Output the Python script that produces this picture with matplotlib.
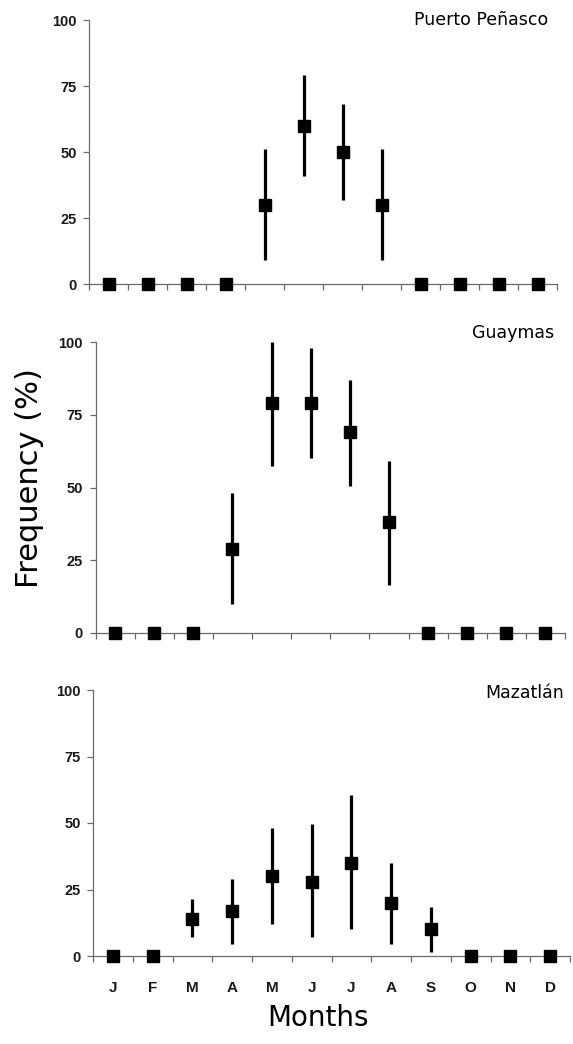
import matplotlib
matplotlib.use("Agg")
import matplotlib.pyplot as plt
import numpy as np

months = ["J", "F", "M", "A", "M", "J", "J", "A", "S", "O", "N", "D"]
yticks = [0, 25, 50, 75, 100]

sites = ["Puerto Peñasco", "Guaymas", "Mazatlán"]

pp_val = [0, 0, 0, 0, 30, 60, 50, 30, 0, 0, 0, 0]
pp_low = [0, 0, 0, 0, 9, 41, 32, 9, 0, 0, 0, 0]
pp_high = [0, 0, 0, 0, 51, 79, 68, 51, 0, 0, 0, 0]

gu_val = [0, 0, 0, 29, 79, 79, 69, 38, 0, 0, 0, 0]
gu_low = [0, 0, 0, 10, 57.5, 60, 50.5, 16.5, 0, 0, 0, 0]
gu_high = [0, 0, 0, 48, 100, 98, 87, 59, 0, 0, 0, 0]

ma_val = [0, 0, 14, 17, 30, 28, 35, 20, 10, 0, 0, 0]
ma_low = [0, 0, 7, 4.5, 12, 7, 10, 4.5, 1.5, 0, 0, 0]
ma_high = [0, 0, 21.5, 29, 48, 49.5, 60.5, 35, 18.5, 0, 0, 0]

W, H = 573, 1044
fig = plt.figure(figsize=(W / 100, H / 100), dpi=100)

# axes boxes in pixels: left, right, top(y=100), bottom(y=0)
boxes = [(89, 557, 20, 284), (95.5, 565, 342, 633), (93, 570, 690, 956)]
title_pos = [(548, 20), (554, 333), (564, 693)]
data = [(pp_val, pp_low, pp_high), (gu_val, gu_low, gu_high), (ma_val, ma_low, ma_high)]

spine_col = "#6a6a6a"
tick_font = dict(family="Liberation Sans", weight="bold", size=10.5)

x = np.arange(len(months))
for i, ((l, r, t, b), (val, lo, hi)) in enumerate(zip(boxes, data)):
    ax = fig.add_axes([l / W, 1 - b / H, (r - l) / W, (b - t) / H])
    val = np.array(val, float)
    lo = np.array(lo, float)
    hi = np.array(hi, float)
    yerr = np.vstack([val - lo, hi - val])
    has = (hi - lo) > 0
    ax.errorbar(x[has], val[has], yerr=yerr[:, has], fmt="none", ecolor="black",
                elinewidth=2.3, capsize=0, clip_on=False, zorder=3)
    ax.plot(x, val, linestyle="none", marker="s", markersize=8.5, color="black",
            clip_on=False, zorder=4)
    ax.set_xlim(-0.5, len(months) - 0.5)
    ax.set_ylim(0, 100)
    for s in ["top", "right"]:
        ax.spines[s].set_visible(False)
    for s in ["left", "bottom"]:
        ax.spines[s].set_color(spine_col)
        ax.spines[s].set_linewidth(0.9)
    ax.set_yticks(yticks)
    ax.set_yticklabels([str(v) for v in yticks], fontdict=tick_font, color="#1a1a1a")
    ax.tick_params(axis="y", direction="out", length=4, width=0.9, color=spine_col, pad=5)
    ax.set_xticks(np.arange(-0.5, len(months), 1.0))
    ax.set_xticklabels([])
    ax.tick_params(axis="x", which="major", direction="out", length=4, width=0.9, color=spine_col)
    if i == 2:
        ax.set_xticks(x, minor=True)
        ax.set_xticklabels(months, minor=True, fontdict=dict(family="Liberation Sans", weight="bold", size=11), color="#1a1a1a")
        ax.tick_params(axis="x", which="minor", length=0, pad=18)
    tx, ty = title_pos[i]
    fig.text(tx / W, 1 - ty / H, sites[i], ha="right", va="center", fontsize=12.5,
             family="DejaVu Sans", color="black")

fig.text(30 / W, 1 - 478 / H, "Frequency (%)", rotation=90, ha="center", va="center",
         fontsize=22, family="DejaVu Sans")
fig.text(318 / W, 1 - 1018 / H, "Months", ha="center", va="center",
         fontsize=20, family="DejaVu Sans")

fig.savefig("out.png", dpi=100)
